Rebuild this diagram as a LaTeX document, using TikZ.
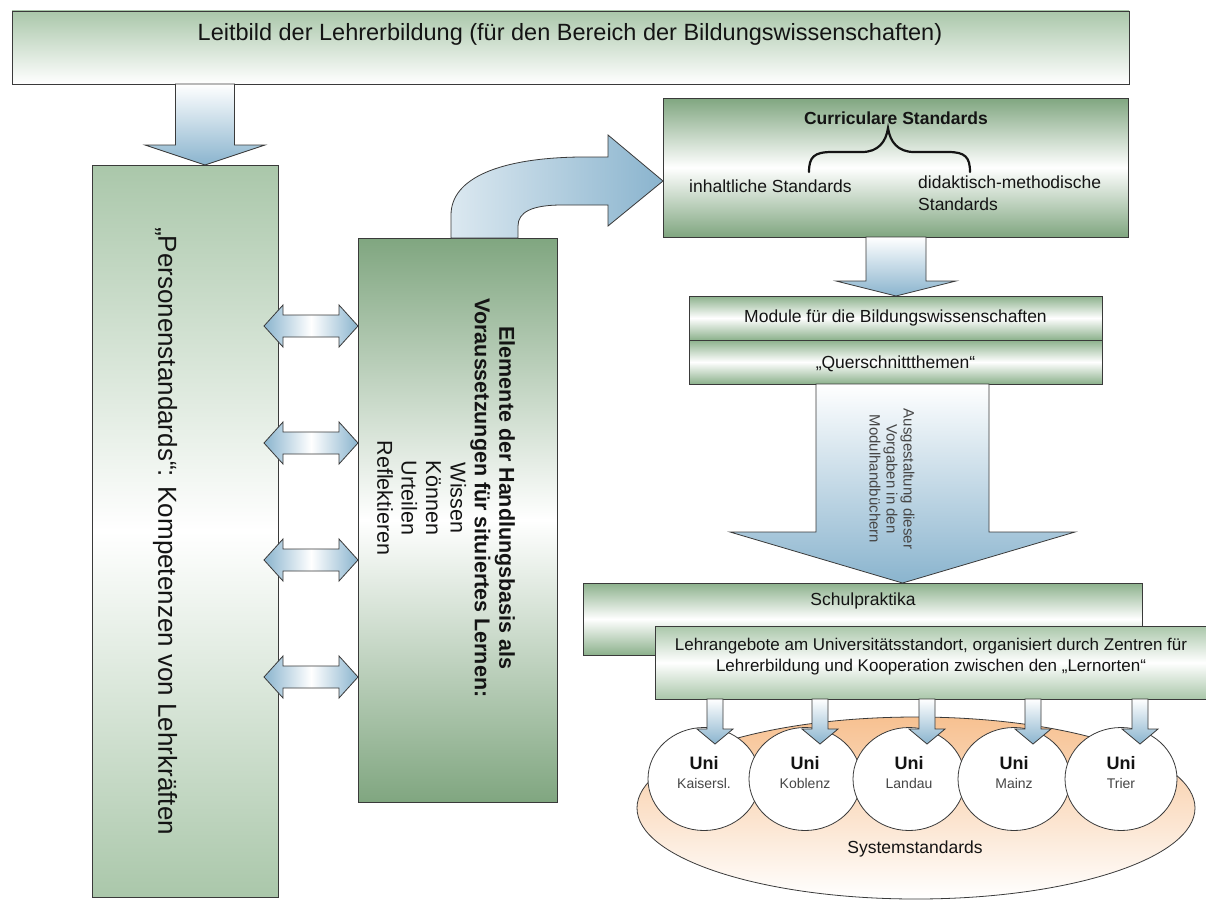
\documentclass[tikz,border=0pt]{standalone}
\usepackage{fontspec}
\setmainfont{Liberation Sans}
\usetikzlibrary{calc,shapes.geometric}

\definecolor{sage}{RGB}{170,199,170}
\definecolor{sagedark}{RGB}{128,166,128}
\definecolor{sagemid}{RGB}{140,177,140}
\definecolor{steel}{RGB}{138,180,206}
\definecolor{apricot}{RGB}{247,193,145}
\definecolor{edge}{RGB}{58,58,58}
\definecolor{ink}{RGB}{20,20,20}
\definecolor{greyink}{RGB}{70,70,70}

% vertical block arrow: base point, tip, shaft half-width, head half-width, head length
\newcommand\downblock[6][]{%
  \path[blockarrow,top color=white,bottom color=steel,#1] let \p1=(#2), \p2=(#3) in
    (\x2-#4,\y1) -- (\x2-#4,\y2+#6) -- (\x2-#5,\y2+#6) -- (\x2,\y2)
    -- (\x2+#5,\y2+#6) -- (\x2+#4,\y2+#6) -- (\x2+#4,\y1) -- cycle;}
% horizontal double block arrow: left tip, right tip, shaft half-height, head half-height, head length
\newcommand\twinblock[5]{%
  \path[blockarrow,left color=steel,right color=steel,middle color=white] let \p1=(#1), \p2=(#2) in
    (\x1,\y1) -- (\x1+#5,\y1+#4) -- (\x1+#5,\y1+#3) -- (\x2-#5,\y1+#3) -- (\x2-#5,\y1+#4)
    -- (\x2,\y1) -- (\x2-#5,\y1-#4) -- (\x2-#5,\y1-#3) -- (\x1+#5,\y1-#3) -- (\x1+#5,\y1-#4) -- cycle;}

\newcommand\fs[2]{\fontsize{#1}{#2}\selectfont}

\begin{document}
\begin{tikzpicture}[x=1pt,y=-1pt,
  box/.style={draw=edge,line width=0.9pt,inner sep=0pt,outer sep=0pt,anchor=north west},
  fadebox/.style={box,top color=sage,bottom color=white},
  bandbox/.style={box,top color=#1,bottom color=#1,middle color=white},
  blockarrow/.style={draw=edge,line width=0.8pt,line join=miter},
  label/.style={text=ink,inner sep=0pt,align=center},
  uni/.style={draw=edge,line width=0.8pt,fill=white,ellipse,minimum width=112pt,minimum height=103pt,inner sep=0pt,align=center}]

\fill[white] (0,0) rectangle (1206,899);
\useasboundingbox (0,0) rectangle (1206,899);

% ---------- boxes ----------
\node[fadebox,minimum width=1117pt,minimum height=73pt] (leit) at (12,11) {};
\node[label,font=\fs{23.5}{27}] (leitT) at (570,34) {Leitbild der Lehrerbildung (für den Bereich der Bildungswissenschaften)};

\node[bandbox=sage,minimum width=186pt,minimum height=732pt] (lbox) at (92,165) {};
\node[label,font=\fs{26}{30},rotate=-90] (lboxT) at (165,531) {„Personenstandards“: Kompetenzen von Lehrkräften};

\node[bandbox=sagedark,minimum width=199pt,minimum height=564pt] (mbox) at (358,238) {};
\node[label,font=\fs{21.5}{24.4},rotate=-90] (mboxT) at (446,498)
  {\textbf{Elemente der Handlungsbasis als}\\\textbf{Voraussetzungen für situiertes Lernen:}\\Wissen\\Können\\Urteilen\\Reflektieren};

\node[bandbox=sagedark,minimum width=465pt,minimum height=139pt] (cur) at (663,98) {};
\node[label,font=\fs{17.5}{21}\bfseries] (curT) at (896,118) {Curriculare Standards};
\node[label,font=\fs{17.5}{21},anchor=west] (curA) at (689,186) {inhaltliche Standards};
\node[label,font=\fs{17.5}{21.5},anchor=north west,align=left] (curB) at (918,176) {didaktisch-methodische\\Standards};
% brace over the two kinds of standards
\draw[ink,line width=2.2pt,line cap=round]
  (809,172) .. controls (809,157) and (814,152) .. (832,152) -- (862,152)
  .. controls (878,152) and (886,142) .. (888,128)
  .. controls (890,142) and (898,152) .. (914,152) -- (948,152)
  .. controls (965,152) and (970,157) .. (970,172);

\node[bandbox=sagemid,minimum width=413pt,minimum height=44pt] (modA) at (689,296) {};
\node[label,font=\fs{17.5}{21}] (modAT) at (modA.center) {Module für die Bildungswissenschaften};
\node[bandbox=sagemid,minimum width=413pt,minimum height=44pt] (modB) at (689,340) {};
\node[label,font=\fs{17.5}{21}] (modBT) at ($(modB.center)+(0,2)$) {„Querschnittthemen“};

% ---------- big arrow into the practical part ----------
\node[bandbox=sagemid,minimum width=559pt,minimum height=72pt] (schul) at (583,583) {};
\coordinate (bigtip) at (902.5,583);
\downblock{bigtip |- modB.south}{bigtip}{86.5}{172.5}{51}
\node[label,font=\fs{15}{17},rotate=-90,text=greyink] (bigT) at (892,479)
  {Ausgestaltung dieser\\Vorgaben in den\\Modulhandbüchern};
\node[label,font=\fs{17.5}{21}] (schulT) at (863,601) {Schulpraktika};

\node[bandbox=sage,minimum width=551pt,minimum height=73pt] (lehr) at (655,626) {};
\node[label,font=\fs{17}{21}] (lehrT) at (931,657)
  {Lehrangebote am Universitätsstandort, organisiert durch Zentren für\\Lehrerbildung und Kooperation zwischen den „Lernorten“};

% ---------- universities ----------
\path[draw=edge,line width=0.8pt,top color=apricot,bottom color=white]
  (916,808) ellipse [x radius=279, y radius=91];
\node[label,font=\fs{17.5}{21}] (sys) at (915,849) {Systemstandards};

\foreach \cx/\city [count=\i] in {704/Kaisersl., 805/Koblenz, 909/Landau, 1014/Mainz, 1121/Trier}{
  \node[uni] (uni\i) at (\cx,779) {};
  \node[label,font=\fs{18}{21}\bfseries] at ($(uni\i.center)+(0,-16)$) {Uni};
  \node[label,font=\fs{14}{17},text=greyink] at ($(uni\i.center)+(0,4)$) {\city};
}
\foreach \ax [count=\i] in {715,820,927,1033,1140}{
  \coordinate (utip\i) at (\ax,744);
  \downblock{utip\i |- lehr.south}{utip\i}{8}{18}{15}
}

% ---------- arrows on the left ----------
\coordinate (toptip) at ($(lbox.north west)+(113,0)$);
\downblock{toptip |- leit.south}{toptip}{29.5}{60}{20}

\coordinate (curtip) at ($(modA.north west)+(207,0)$);
\downblock{curtip |- cur.south}{curtip}{30}{60}{15}

\foreach \yy [count=\i] in {326,443,560,677}{
  \coordinate (tw\i) at (264,\yy);
  \twinblock{tw\i}{mbox.west |- tw\i}{11}{21}{19}
}

% curved arrow from the elements box to the curricular standards
\path[blockarrow,left color=white,right color=steel]
  (mbox.north west) ++(93,0) coordinate (cvA)
  (cvA) -- (451,215) .. controls (451,178) and (500,158) .. (580,157) -- (608,157)
  -- (608,135) -- (cur.west |- 0,181) -- (608,226) -- (608,205) -- (562,205)
  .. controls (532,205) and (518,212) .. (518,226) -- (mbox.north west -| 518,0) -- cycle;

\end{tikzpicture}
\end{document}
